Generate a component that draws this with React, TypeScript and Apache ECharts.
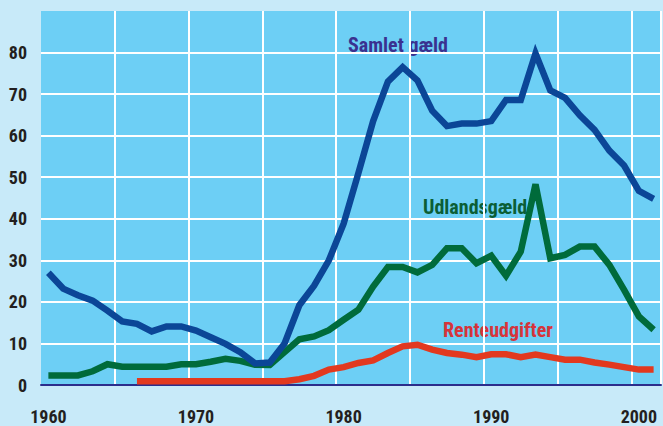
import React, { useEffect, useRef } from 'react';
import * as echarts from 'echarts';

const years = [
  '1960', '1961', '1962', '1963', '1964', '1965', '1966', '1967', '1968', '1969',
  '1970', '1971', '1972', '1973', '1974', '1975', '1976', '1977', '1978', '1979',
  '1980', '1981', '1982', '1983', '1984', '1985', '1986', '1987', '1988', '1989',
  '1990', '1991', '1992', '1993', '1994', '1995', '1996', '1997', '1998', '1999',
  '2000', '2001',
];

const samletGaeld = [
  27, 23.2, 21.6, 20.3, 17.9, 15.3, 14.7, 12.9, 14.1, 14.1,
  13.1, 11.5, 9.9, 7.9, 5.2, 5.4, 10, 19.2, 23.9, 30,
  38.8, 51, 63.5, 73, 76.5, 73.3, 66, 62.3, 62.9, 62.9,
  63.5, 68.6, 68.6, 79.8, 70.9, 69.1, 64.9, 61.4, 56.4, 52.8,
  46.7, 44.8,
];

const udlandsGaeld = [
  2.3, 2.3, 2.3, 3.3, 5.0, 4.4, 4.4, 4.4, 4.4, 5.0,
  5.0, 5.6, 6.3, 5.8, 4.9, 4.8, 7.9, 11.0, 11.7, 13.2,
  15.7, 18.1, 23.7, 28.4, 28.4, 27.1, 28.9, 32.9, 32.9, 29.3,
  31.1, 26.3, 32.1, 48.3, 30.5, 31.3, 33.3, 33.3, 28.9, 22.9,
  16.5, 13.3,
];

const renteudgifter = [
  null, null, null, null, null, null, 0.9, 0.9, 0.9, 0.9,
  0.9, 0.9, 0.9, 0.9, 0.9, 0.9, 0.9, 1.4, 2.2, 3.7,
  4.3, 5.3, 5.9, 7.7, 9.3, 9.7, 8.5, 7.7, 7.3, 6.7,
  7.4, 7.4, 6.7, 7.3, 6.7, 6.1, 6.1, 5.4, 4.9, 4.3,
  3.7, 3.7,
];

const seriesNames = ['Samlet gæld', 'Udlandsgæld', 'Renteudgifter'];

const FONT = "'Liberation Sans Narrow', 'Roboto Condensed', 'Noto Sans', sans-serif";

export default function App() {
  const ref = useRef<HTMLDivElement>(null);

  useEffect(() => {
    document.body.style.margin = '0';
    const chart = echarts.init(ref.current!, null, { renderer: 'svg' });
    const axisText = {
      fontSize: 18,
      color: '#231f20',
      fontFamily: FONT,
      fontWeight: 'bold' as const,
    };
    chart.setOption({
      animation: false,
      backgroundColor: '#c8eaf9',
      grid: {
        left: 41,
        right: 2,
        top: 11,
        bottom: 41,
        show: true,
        backgroundColor: '#6dcff5',
        borderWidth: 0,
      },
      xAxis: {
        type: 'category',
        data: years,
        boundaryGap: true,
        axisLine: { lineStyle: { color: '#2b2e8c', width: 2 } },
        axisTick: { show: false },
        axisLabel: { ...axisText, interval: 9, margin: 22 },
        splitLine: {
          show: true,
          interval: (index: number) => index % 5 === 0 && index !== 0,
          lineStyle: { color: '#ffffff', width: 2 },
        },
      },
      yAxis: {
        type: 'value',
        min: 0,
        max: 90,
        interval: 10,
        axisLine: { show: false },
        axisTick: { show: false },
        axisLabel: {
          ...axisText,
          margin: 14,
          formatter: (v: number) => (v === 90 ? '' : String(v)),
        },
        splitLine: {
          show: true,
          showMinLine: false,
          showMaxLine: false,
          lineStyle: { color: '#ffffff', width: 2 },
        },
      },
      series: [
        {
          name: seriesNames[1],
          type: 'line',
          data: udlandsGaeld,
          symbol: 'none',
          lineStyle: { color: '#006b3b', width: 6.5, join: 'miter' },
        },
        {
          name: seriesNames[2],
          type: 'line',
          data: renteudgifter,
          symbol: 'none',
          lineStyle: { color: '#e2391f', width: 6.5, join: 'miter' },
        },
        {
          name: seriesNames[0],
          type: 'line',
          data: samletGaeld,
          symbol: 'none',
          lineStyle: { color: '#0b4697', width: 6.5, join: 'miter' },
        },
      ],
      graphic: [
        {
          type: 'text',
          left: 348,
          top: 35,
          style: { text: seriesNames[0], font: `bold 20px ${FONT}`, fill: '#3a3190' },
        },
        {
          type: 'text',
          left: 423,
          top: 197,
          style: { text: seriesNames[1], font: `bold 20px ${FONT}`, fill: '#0b5e35' },
        },
        {
          type: 'text',
          left: 443,
          top: 320,
          style: { text: seriesNames[2], font: `bold 20px ${FONT}`, fill: '#d6343a' },
        },
      ],
    });
    return () => chart.dispose();
  }, []);

  return <div ref={ref} style={{ width: 663, height: 426 }} />;
}
